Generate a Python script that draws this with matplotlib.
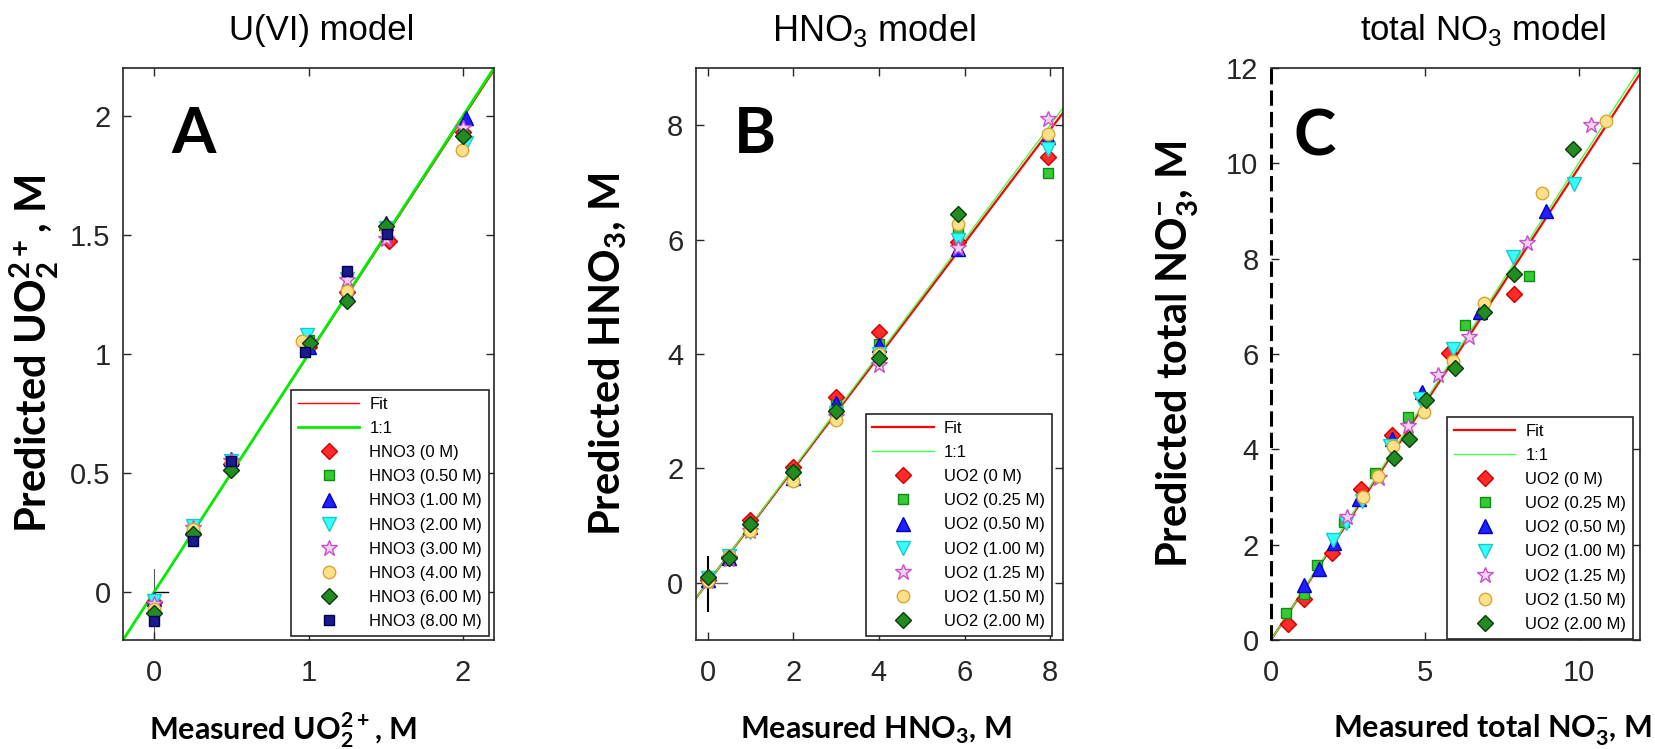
import numpy as np
import matplotlib
matplotlib.use("Agg")
import matplotlib.pyplot as plt

plt.rcParams['font.family'] = ['Liberation Sans', 'DejaVu Sans']
plt.rcParams['mathtext.fontset'] = 'custom'
plt.rcParams['mathtext.rm'] = 'Liberation Sans'
plt.rcParams['mathtext.bf'] = 'Lato:bold'

# ---------------- data ----------------
# panel A : U(VI) model, x = measured UO2 2+, one series per HNO3 level
a_labels = ['HNO3 (0 M)', 'HNO3 (0.50 M)', 'HNO3 (1.00 M)', 'HNO3 (2.00 M)',
            'HNO3 (3.00 M)', 'HNO3 (4.00 M)', 'HNO3 (6.00 M)', 'HNO3 (8.00 M)']
a_x = [[0, 0.25, 0.5, 1.0, 1.25, 1.52, 2.0],
       [0, 0.25, 0.5, 1.0, 1.25, 1.5, 2.0],
       [0, 0.25, 0.5, 1.0, 1.25, 1.5, 2.02],
       [0, 0.25, 0.5, 0.99, 1.25, 1.5, 2.02],
       [0, 0.25, 0.5, 1.0, 1.25, 1.5, 2.0],
       [0, 0.25, 0.5, 0.96, 1.25, 1.5, 1.99],
       [0, 0.25, 0.5, 1.01, 1.25, 1.5, 2.0],
       [0, 0.25, 0.5, 0.98, 1.25, 1.51]]
a_y = [[-0.04, 0.245, 0.537, 1.03, 1.26, 1.475, 1.93],
       [-0.05, 0.28, 0.54, 1.06, 1.27, 1.53, 1.92],
       [-0.03, 0.28, 0.56, 1.03, 1.25, 1.55, 1.99],
       [-0.035, 0.28, 0.55, 1.08, 1.315, 1.53, 1.887],
       [-0.05, 0.27, 0.55, 1.05, 1.31, 1.482, 1.947],
       [-0.07, 0.267, 0.545, 1.055, 1.265, 1.527, 1.855],
       [-0.085, 0.245, 0.515, 1.045, 1.224, 1.535, 1.913],
       [-0.12, 0.215, 0.552, 1.01, 1.347, 1.505]]

# panel B : HNO3 model, x = measured HNO3, one series per UO2 level
b_labels = ['UO2 (0 M)', 'UO2 (0.25 M)', 'UO2 (0.50 M)', 'UO2 (1.00 M)',
            'UO2 (1.25 M)', 'UO2 (1.50 M)', 'UO2 (2.00 M)']
b_x = [[0, 0.5, 1, 2, 3, 4, 5.85, 7.95],
       [0, 0.5, 1, 2, 3, 4, 5.85, 7.95],
       [0, 0.5, 1, 2, 3, 4, 5.85, 7.95],
       [0, 0.5, 1, 2, 3, 4, 5.85, 7.95],
       [0, 0.5, 1, 2, 3, 4, 5.85, 7.95],
       [0, 0.5, 1, 2, 3, 4, 5.85, 7.95],
       [0, 0.5, 1, 2, 3, 4, 5.85]]
b_y = [[0.05, 0.45, 1.1, 2.03, 3.25, 4.39, 5.95, 7.45],
       [0.06, 0.45, 1.0, 1.95, 3.1, 4.18, 6.11, 7.17],
       [0.05, 0.43, 0.97, 1.84, 3.15, 4.15, 5.83, 7.8],
       [0.08, 0.47, 0.88, 1.85, 2.97, 4.0, 5.99, 7.58],
       [0.03, 0.42, 0.9, 1.88, 2.9, 3.8, 5.86, 8.1],
       [0.04, 0.46, 0.91, 1.78, 2.84, 4.0, 6.27, 7.84],
       [0.1, 0.44, 1.03, 1.94, 3.0, 3.93, 6.45]]

# panel C : total NO3 model, x = measured total nitrate
c_labels = b_labels
c_x = [[0.54, 1.06, 1.97, 2.92, 3.93, 5.8, 7.91],
       [0.5, 1.06, 1.48, 2.38, 3.38, 4.44, 6.31, 8.38],
       [1.06, 1.57, 2.05, 2.87, 3.93, 4.92, 6.8, 8.95],
       [2.0, 2.44, 2.95, 3.87, 4.83, 5.91, 7.86, 9.86],
       [2.48, 3.52, 4.44, 5.44, 6.44, 8.32, 10.4],
       [2.98, 3.49, 3.98, 4.96, 5.93, 6.93, 8.81, 10.89],
       [4.0, 4.48, 5.03, 5.99, 6.94, 7.91, 9.82]]
c_y = [[0.34, 0.86, 1.83, 3.17, 4.3, 6.03, 7.26],
       [0.57, 0.96, 1.57, 2.48, 3.5, 4.67, 6.61, 7.64],
       [1.15, 1.49, 2.03, 2.95, 4.22, 5.2, 6.89, 8.99],
       [2.1, 2.46, 2.91, 4.07, 5.05, 6.1, 8.04, 9.56],
       [2.57, 3.4, 4.49, 5.55, 6.36, 8.32, 10.8],
       [3.0, 3.45, 4.06, 4.79, 5.85, 7.06, 9.37, 10.89],
       [3.82, 4.22, 5.03, 5.71, 6.89, 7.68, 10.31]]

# fit lines (slope, intercept)
fit_a = (0.995, 0.0)
fit_b = (0.99, 0.0)
fit_c = (0.99, 0.0)

# ---------------- styles ----------------
styles = [
    dict(marker='D', mfc='#ff2a2a', mec='#d00000', ms=8),
    dict(marker='s', mfc='#33cc33', mec='#138a13', ms=7),
    dict(marker='^', mfc='#1f1fff', mec='#0000c0', ms=10),
    dict(marker='v', mfc='#33ffff', mec='#1ec8c8', ms=10),
    dict(marker='*', mfc='#f4d2f4', mec='#c850c8', ms=12, mew=1.0),
    dict(marker='o', mfc='#ffe08a', mec='#d4a832', ms=9),
    dict(marker='D', mfc='#228b22', mec='#0b3d0b', ms=8),
    dict(marker='s', mfc='#1a1a8c', mec='#000050', ms=7),
]

fig = plt.figure(figsize=(16.55, 7.49), dpi=100)
W, H = 1655, 749
def axpos(l, r, t, b):
    return [l / W, 1 - b / H, (r - l) / W, (b - t) / H]

axA = fig.add_axes(axpos(123, 494, 68, 640))
axB = fig.add_axes(axpos(696, 1063, 68, 640))
axC = fig.add_axes(axpos(1271, 1640, 68, 640))

def draw(ax, xs, ys, labels, fit, lims_x, lims_y, fit_lw, one_lw, one_col):
    xx = np.array(lims_x)
    ax.plot(xx, fit[0] * xx + fit[1], color='red', lw=fit_lw, label='Fit')
    ax.plot(xx, xx, color=one_col, lw=one_lw, label='1:1')
    for i in range(len(xs)):
        st = dict(styles[i])
        st.setdefault('mew', 1.0)
        ax.plot(xs[i], ys[i], ls='none', label=labels[i], **st)
    ax.set_xlim(lims_x)
    ax.set_ylim(lims_y)
    ax.tick_params(direction='in', top=True, right=True, length=6, width=1,
                   labelsize=21, colors='#262626', pad=14)
    ax.tick_params(axis='y', pad=9)
    for s in ax.spines.values():
        s.set_color('#262626')
        s.set_linewidth(1.2)

draw(axA, a_x, a_y, a_labels, fit_a, [-0.2, 2.2], [-0.2, 2.2], 1.0, 2.0, '#00ee00')
draw(axB, b_x, b_y, b_labels, fit_b, [-0.27, 8.3], [-1, 9], 1.6, 1.0, '#44ff44')
draw(axC, c_x, c_y, c_labels, fit_c, [0, 12], [0, 12], 1.6, 1.0, '#44ff44')

axA.set_xticks([0, 1, 2])
axA.set_yticks([0, 0.5, 1, 1.5, 2])
axA.set_yticklabels(['0', '0.5', '1', '1.5', '2'])
axB.set_xticks([0, 2, 4, 6, 8])
axB.set_yticks([0, 2, 4, 6, 8])
axC.set_xticks([0, 5, 10])
axC.set_yticks([0, 2, 4, 6, 8, 10, 12])

# small cross marks at the origin
axA.plot([0, 0], [-0.2, 0.1], color='0.35', lw=0.8, zorder=1)
axA.plot([0, 0.09], [0, 0], color='k', lw=1.0, zorder=1)
axB.plot([0, 0], [-0.5, 0.45], color='k', lw=1.5, zorder=1)
axB.plot([0, 0.45], [0, 0], color='0.4', lw=1.0, zorder=1)

# dashed left edge in panel C
axC.spines['left'].set_visible(False)
axC.axvline(0, color='k', lw=2.2, ls=(0, (5, 2)), clip_on=False, zorder=5)

# legends
for ax, anchor in [(axA, (0.453, 0.437)), (axB, (0.462, 0.395)),
                   (axC, (0.477, 0.39))]:
    leg = ax.legend(loc='upper left', bbox_to_anchor=anchor, borderaxespad=0,
                    fontsize=12, frameon=True, fancybox=False, framealpha=1,
                    edgecolor='#262626', handlelength=3.7, handletextpad=0.6,
                    labelspacing=0.55, borderpad=0.4, numpoints=1)
    leg.get_frame().set_linewidth(1.2)

# big panel letters
for ax, letter, xy in [(axA, 'A', (0.19, 0.883)), (axB, 'B', (0.16, 0.883)),
                       (axC, 'C', (0.117, 0.88))]:
    ax.text(xy[0], xy[1], letter, transform=ax.transAxes, ha='center', va='center',
            fontsize=46, fontweight='bold', family='Lato')

# titles
axA.text(0.536, 1.066, 'U(VI) model', transform=axA.transAxes, ha='center',
         va='center', fontsize=25)
axB.text(0.485, 1.066, r'HNO$_\mathrm{3}$ model', transform=axB.transAxes,
         ha='center', va='center', fontsize=26)
axC.text(0.575, 1.066, r'total NO$_\mathrm{3}$ model', transform=axC.transAxes,
         ha='center', va='center', fontsize=25)

# axis labels
xlab = dict(fontsize=22, fontweight='bold', family='Lato')
ylab = dict(fontsize=30, fontweight='bold', family='Lato')
axA.set_xlabel(r'Measured UO$_\mathbf{2}^\mathbf{2+}$, M', **xlab)
axA.set_ylabel(r'Predicted UO$_\mathbf{2}^\mathbf{2+}$, M', **ylab)
axB.set_xlabel(r'Measured HNO$_\mathbf{3}$, M', **xlab)
axB.set_ylabel(r'Predicted HNO$_\mathbf{3}$, M', **ylab)
axC.set_xlabel(r'Measured total NO$_\mathbf{3}^\mathbf{-}$, M', **xlab)
axC.set_ylabel(r'Predicted total NO$_\mathbf{3}^\mathbf{-}$, M', **ylab)

axA.xaxis.set_label_coords(0.43, -0.157)
axB.xaxis.set_label_coords(0.49, -0.157)
axC.xaxis.set_label_coords(0.6, -0.157)
axA.yaxis.set_label_coords(-0.238, 0.5)
axB.yaxis.set_label_coords(-0.24, 0.5)
axC.yaxis.set_label_coords(-0.252, 0.5)
for ax in (axA, axB, axC):
    ax.xaxis.label.set_va('center')
    ax.yaxis.label.set_va('center')

fig.savefig('out.png', dpi=100)
